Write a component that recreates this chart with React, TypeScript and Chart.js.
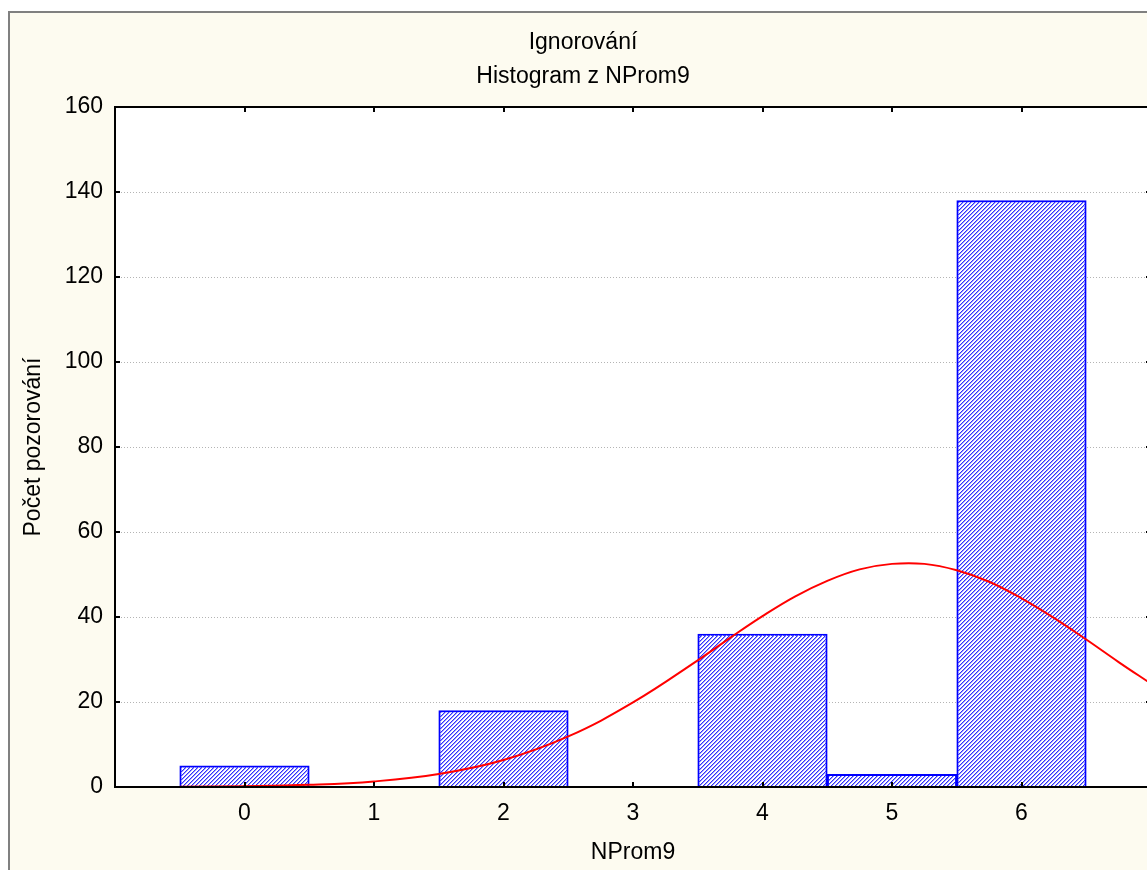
import { useEffect, useRef } from 'react';
import { Chart, registerables } from 'chart.js';

Chart.register(...registerables);

// Histogram bins (bin centre -> number of observations); empty bins 1 and 3 are left out
const binCenters = [0, 2, 4, 5, 6];
const binCounts = [5, 18, 36, 3, 138];

// Fitted normal curve, sampled along the x axis
const curveX = [-0.5, 0, 0.5, 1, 1.5, 2, 2.5, 3, 3.5, 3.75, 4, 4.25, 4.5, 4.75, 5, 5.25, 5.5, 5.75, 6, 6.25, 6.5, 6.75, 7];
const curveY = [0.05, 0.18, 0.51, 1.31, 3.05, 6.35, 11.9, 19.9, 29.8, 35.1, 40.2, 44.8, 48.5, 51.2, 52.5, 52.5, 51.0, 48.3, 44.4, 39.8, 34.7, 29.4, 24.3];

const xTickValues = [0, 1, 2, 3, 4, 5, 6];
const yTickValues = [0, 20, 40, 60, 80, 100, 120, 140, 160];

const titleLines = ['Ignorování', 'Histogram z NProm9'];
const xAxisTitle = 'NProm9';
const yAxisTitle = 'Počet pozorování';

const W = 1190;
const H = 870;
const FONT_FAMILY = '"Liberation Sans", Arial, sans-serif';
const FONT_SIZE = 23;
const CREAM = '#fdfbf0';
const HATCH_DARK = '#3030ff';
const HATCH_LIGHT = '#9c9cff';
const HATCH_STEP = 4;

// Fill one bar's interior with pixel-aligned "/" hatch lines
function hatchRect(ctx: CanvasRenderingContext2D, x0: number, y0: number, x1: number, y1: number) {
  const l = Math.ceil(x0);
  const r = Math.floor(x1);
  const t = Math.ceil(y0);
  const b = Math.floor(y1);
  for (let y = t; y < b; y++) {
    for (let x = l; x < r; x++) {
      const k = (x + y) % HATCH_STEP;
      if (k === 0) {
        ctx.fillStyle = HATCH_DARK;
        ctx.fillRect(x, y, 1, 1);
      } else if (k === 1) {
        ctx.fillStyle = HATCH_LIGHT;
        ctx.fillRect(x, y, 1, 1);
      }
    }
  }
}

const decor = {
  id: 'decor',
  beforeDraw(chart: any) {
    const { ctx, chartArea: a } = chart;
    ctx.save();
    ctx.fillStyle = '#ffffff';
    ctx.fillRect(0, 0, W, H);
    ctx.fillStyle = CREAM;
    ctx.fillRect(9, 12, W - 9, H - 12);
    ctx.strokeStyle = '#808080';
    ctx.lineWidth = 2;
    ctx.beginPath();
    ctx.moveTo(9, H);
    ctx.lineTo(9, 12);
    ctx.lineTo(W, 12);
    ctx.stroke();
    ctx.fillStyle = '#ffffff';
    ctx.fillRect(a.left, a.top, a.right - a.left, a.bottom - a.top);
    ctx.restore();
  },
  beforeDatasetsDraw(chart: any) {
    const { ctx, chartArea: a, scales } = chart;
    ctx.save();
    ctx.strokeStyle = '#b4b4b4';
    ctx.lineWidth = 1;
    ctx.setLineDash([1, 2]);
    for (const v of yTickValues) {
      if (v === 0 || v === 160) continue;
      const y = Math.round(scales.y.getPixelForValue(v)) + 0.5;
      ctx.beginPath();
      ctx.moveTo(a.left, y);
      ctx.lineTo(a.right, y);
      ctx.stroke();
    }
    ctx.restore();
  },
  afterDatasetDraw(chart: any, args: any) {
    if (args.meta.type !== 'bar') return;
    const { ctx } = chart;
    ctx.save();
    for (const el of args.meta.data) {
      const { x, y, base, width } = el.getProps(['x', 'y', 'base', 'width'], true);
      hatchRect(ctx, x - width / 2 + 1, Math.min(y, base) + 1, x + width / 2 - 1, Math.max(y, base));
    }
    ctx.restore();
  },
  afterDatasetsDraw(chart: any) {
    const { ctx, chartArea: a, scales } = chart;
    ctx.save();
    ctx.strokeStyle = '#000000';
    ctx.lineWidth = 2;
    ctx.strokeRect(a.left, a.top, a.right - a.left, a.bottom - a.top);
    const tl = 5;
    ctx.beginPath();
    for (const v of xTickValues) {
      const x = Math.round(scales.x.getPixelForValue(v));
      ctx.moveTo(x, a.top);
      ctx.lineTo(x, a.top + tl);
      ctx.moveTo(x, a.bottom);
      ctx.lineTo(x, a.bottom - tl);
    }
    for (const v of yTickValues) {
      const y = Math.round(scales.y.getPixelForValue(v));
      ctx.moveTo(a.left, y);
      ctx.lineTo(a.left + tl, y);
      ctx.moveTo(a.right, y);
      ctx.lineTo(a.right - tl, y);
    }
    ctx.stroke();
    ctx.restore();
  },
  afterDraw(chart: any) {
    const { ctx, chartArea: a } = chart;
    ctx.save();
    ctx.fillStyle = '#000000';
    ctx.font = `${FONT_SIZE}px ${FONT_FAMILY}`;
    ctx.textAlign = 'center';
    ctx.textBaseline = 'middle';
    ctx.fillText(titleLines[0], 583, 43);
    ctx.fillText(titleLines[1], 583, 77);
    ctx.fillText(xAxisTitle, (a.left + a.right) / 2, 853);
    ctx.translate(34, (a.top + a.bottom) / 2);
    ctx.rotate(-Math.PI / 2);
    ctx.fillText(yAxisTitle, 0, 0);
    ctx.restore();
  },
};

export default function App() {
  const canvasRef = useRef<HTMLCanvasElement | null>(null);

  useEffect(() => {
    const canvas = canvasRef.current;
    if (!canvas) return;
    const tickFont = { family: FONT_FAMILY, size: FONT_SIZE };
    const chart = new Chart(canvas, {
      type: 'bar',
      data: {
        datasets: [
          {
            type: 'line',
            data: curveX.map((x, i) => ({ x, y: curveY[i] })),
            borderColor: '#ff0000',
            borderWidth: 2,
            pointRadius: 0,
            fill: false,
            tension: 0.4,
            order: 0,
          } as any,
          {
            type: 'bar',
            data: binCenters.map((x, i) => ({ x, y: binCounts[i] })),
            backgroundColor: '#ffffff',
            borderColor: '#0000ff',
            borderWidth: 2,
            barPercentage: 1,
            categoryPercentage: 1,
            order: 1,
          } as any,
        ],
      },
      options: {
        responsive: false,
        animation: false,
        events: [],
        layout: { padding: { top: 107, right: W - 1151, left: 0, bottom: 0 } },
        plugins: { legend: { display: false }, tooltip: { enabled: false }, title: { display: false } },
        scales: {
          x: {
            type: 'linear',
            min: -1,
            max: 7,
            offset: false,
            grid: { display: false, drawTicks: false },
            border: { display: false },
            ticks: { font: tickFont, color: '#000000', padding: 13, maxRotation: 0, autoSkip: false },
            afterBuildTicks: (s: any) => {
              s.ticks = xTickValues.map((v) => ({ value: v }));
            },
            afterFit: (s: any) => {
              s.height = H - 787;
            },
          },
          y: {
            type: 'linear',
            min: 0,
            max: 160,
            grid: { display: false, drawTicks: false },
            border: { display: false },
            ticks: { font: tickFont, color: '#000000', padding: 12, stepSize: 20 },
            afterFit: (s: any) => {
              s.width = 115;
            },
          },
        },
      } as any,
      plugins: [decor],
    });
    return () => chart.destroy();
  }, []);

  return (
    <div style={{ position: 'fixed', left: 0, top: 0, width: 1147, height: 870, overflow: 'hidden', background: '#ffffff' }}>
      <canvas ref={canvasRef} width={W} height={H} style={{ width: W, height: H, display: 'block' }} />
    </div>
  );
}
